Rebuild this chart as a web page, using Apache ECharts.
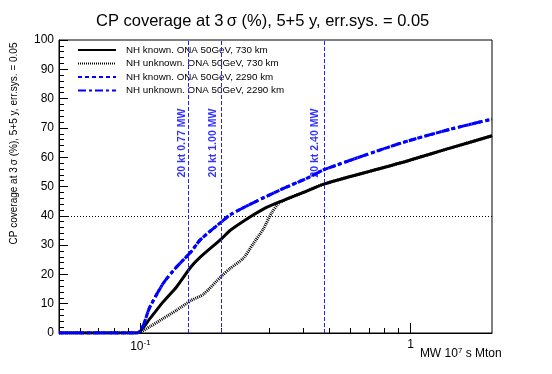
<!DOCTYPE html>
<html><head><meta charset="utf-8">
<script src="https://cdn.jsdelivr.net/npm/echarts@6/dist/echarts.min.js"></script>
<style>html,body{margin:0;padding:0;background:#fff}#c{width:552px;height:374px}</style>
</head><body><div id="c"></div>
<script>
// ---- data ----
const xKnown730 = [0.05, 0.097, 0.1086, 0.1216, 0.1363, 0.154, 0.1662, 0.2, 0.2146, 0.2544, 0.285, 0.3286, 0.4066, 0.48, 0.913, 1.398, 2.0];
const yKnown730 = [0, 0, 5.0, 10.7, 15.8, 22.6, 25.8, 32.2, 35.0, 39.6, 42.3, 44.8, 48.2, 50.9, 58.0, 63.1, 67.3];
const xUnknown730 = [0.05, 0.097, 0.1086, 0.1216, 0.1363, 0.154, 0.171, 0.2, 0.2146, 0.2403, 0.2617, 0.285, 0.3061, 0.3286, 0.4066, 0.48, 0.913, 1.398, 2.0];
const yUnknown730 = [0, 0, 2.2, 5.0, 7.8, 11.1, 13.2, 19.5, 22.0, 25.5, 30.5, 35.5, 41.0, 44.6, 48.2, 50.9, 58.0, 63.1, 67.3];
const xKnown2290 = [0.05, 0.097, 0.1086, 0.1216, 0.1363, 0.154, 0.1662, 0.2, 0.2146, 0.2544, 0.3286, 0.424, 0.48, 0.913, 1.398, 2.0];
const yKnown2290 = [0, 0, 9.0, 17.0, 22.6, 27.7, 31.7, 38.0, 40.3, 43.9, 48.8, 53.3, 55.8, 64.7, 69.5, 73.0];
const xUnknown2290 = xKnown2290;
const yUnknown2290 = yKnown2290;
const seriesNames = ['NH known. ONA 50GeV, 730 km', 'NH unknown. ONA 50GeV, 730 km', 'NH known. ONA 50GeV, 2290 km', 'NH unknown. ONA 50GeV, 2290 km'];
const powerLines = [0.154, 0.2, 0.48];
const powerLabels = ['20 kt 0.77 MW', '20 kt 1.00 MW', '20 kt 2.40 MW'];
const powerLabelY = 64.8;
const threshold = 40;
const xMin = 0.05, xMax = 2;
const xMajorTicks = [0.1, 1];
const xMinorTicks = [0.06, 0.07, 0.08, 0.09, 0.2, 0.3, 0.4, 0.5, 0.6, 0.7, 0.8, 0.9];

const zip = (xs, ys) => xs.map((x, i) => [x, ys[i]]);
const FONT = 'Liberation Sans, Arial, Helvetica, sans-serif';
const chart = echarts.init(document.getElementById('c'), null, {renderer: 'canvas'});
const SMOOTH = 0.25;

const option = {
  animation: false,
  backgroundColor: '#fff',
  title: {
    text: 'CP coverage at 3\u2009\u03c3 (%), 5+5 y, err.sys. = 0.05',
    left: 91, top: 8,
    textStyle: {fontFamily: FONT, fontWeight: 'normal', fontSize: 16.5, color: '#000'}
  },
  grid: {left: 59, right: 60, top: 40, bottom: 41, show: true, borderColor: '#000', borderWidth: 1, backgroundColor: 'transparent'},
  legend: {
    orient: 'vertical', left: 77, top: 45, padding: 0, itemWidth: 38, itemHeight: 12, itemGap: 3.5,
    data: seriesNames,
    itemStyle: {opacity: 0},
    textStyle: {fontFamily: FONT, fontSize: 9.8, color: '#000', padding: [0, 0, 0, 5]}
  },
  xAxis: [{
    type: 'log', logBase: 10, min: xMin, max: xMax,
    name: 'MW 10{sup|7} s Mton', nameLocation: 'end', nameGap: 0,
    nameTextStyle: {fontFamily: FONT, fontSize: 12, color: '#000', align: 'right', verticalAlign: 'top', padding: [14, 0, 0, 0],
      rich: {sup: {fontFamily: FONT, fontSize: 8, color: '#000', verticalAlign: 'top', padding: [0, 0, 6, 0]}}},
    axisLine: {show: true, lineStyle: {color: '#000', width: 1}},
    axisTick: {show: true, inside: true, length: 10, lineStyle: {color: '#000'}, customValues: xMajorTicks},
    axisLabel: {
      show: true, customValues: xMajorTicks, margin: 6,
      fontFamily: FONT, fontSize: 12, color: '#000',
      formatter: v => (Math.abs(v - 0.1) < 1e-9 ? '10{sup|-1}' : (Math.abs(v - 1) < 1e-9 ? '1' : '')),
      rich: {sup: {fontFamily: FONT, fontSize: 8, color: '#000', padding: [0, 0, 8, 0]}}
    },
    splitLine: {show: false}
  }, {
    type: 'log', logBase: 10, min: xMin, max: xMax, position: 'bottom', gridIndex: 0,
    axisLine: {show: false},
    axisTick: {show: true, inside: true, length: 5, lineStyle: {color: '#000'}, customValues: xMinorTicks},
    axisLabel: {show: false},
    splitLine: {show: false}
  }],
  yAxis: {
    type: 'value', min: 0, max: 100, interval: 10,
    name: 'CP coverage at 3\u2009\u03c3 (%), 5+5 y, err.sys. = 0.05',
    nameLocation: 'middle', nameRotate: 90, nameGap: 40,
    nameTextStyle: {fontFamily: FONT, fontSize: 10, color: '#000', padding: [0, 0, 0, 86]},
    axisLine: {show: true, lineStyle: {color: '#000'}},
    axisTick: {show: true, inside: true, length: 9, lineStyle: {color: '#000'}},
    minorTick: {show: true, splitNumber: 5, length: 5, lineStyle: {color: '#000'}},
    axisLabel: {fontFamily: FONT, fontSize: 12, color: '#000', margin: 5},
    splitLine: {show: false}
  },
  series: [
    {
      name: seriesNames[0], type: 'line', data: zip(xKnown730, yKnown730), showSymbol: false, symbol: 'none', z: 3,
      smooth: SMOOTH,
      itemStyle: {color: '#000'},
      lineStyle: {color: '#000', width: 3, type: 'solid'},
      markLine: {
        silent: true, symbol: 'none', label: {show: false},
        lineStyle: {color: '#000', width: 1, type: [1, 2]},
        data: [{yAxis: threshold}]
      }
    },
    {
      name: seriesNames[1], type: 'line', data: zip(xUnknown730, yUnknown730), showSymbol: false, symbol: 'none', z: 2,
      smooth: SMOOTH,
      itemStyle: {color: '#000'},
      lineStyle: {color: '#000', width: 3, type: [1, 1]}
    },
    {
      name: seriesNames[2], type: 'line', data: zip(xKnown2290, yKnown2290), showSymbol: false, symbol: 'none', z: 4,
      smooth: SMOOTH,
      itemStyle: {color: '#0000ff'},
      lineStyle: {color: '#0000ff', width: 3, type: [4, 3]},
      markLine: {
        silent: true, symbol: 'none', label: {show: false},
        lineStyle: {color: '#2020ff', width: 1, type: [4, 2]},
        data: powerLines.map(v => ({xAxis: v}))
      }
    },
    {
      name: seriesNames[3], type: 'line', data: zip(xUnknown2290, yUnknown2290), showSymbol: false, symbol: 'none', z: 5,
      smooth: SMOOTH,
      itemStyle: {color: '#0000ff'},
      lineStyle: {color: '#0000ff', width: 3, type: [8, 3, 3, 3]}
    },
    {
      type: 'scatter', data: powerLines.map(v => [v, powerLabelY]), symbolSize: 1, z: 6,
      itemStyle: {color: 'transparent'}, silent: true,
      label: {
        show: true, position: 'inside', rotate: 90, offset: [0, -9],
        formatter: p => powerLabels[p.dataIndex],
        fontFamily: FONT, fontSize: 10.5, fontWeight: 'bold', color: '#0000ff'
      }
    }
  ]
};
chart.setOption(option);
</script></body></html>
